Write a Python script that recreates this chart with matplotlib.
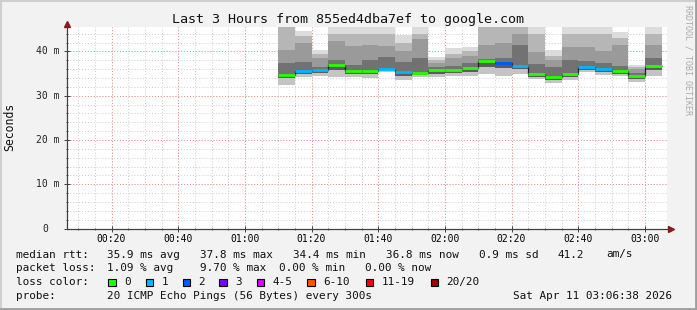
import matplotlib
matplotlib.use("Agg")
import matplotlib.pyplot as plt
import matplotlib.transforms as mtransforms
from matplotlib.patches import Rectangle
from matplotlib.lines import Line2D
import numpy as np

plt.rcParams['font.family'] = ['DejaVu Sans Mono', 'DejaVu Sans']

W, H = 697, 310

# time axis, minutes after 00:00
t_start = 6 + 38 / 60.0     # 00:06:38
t_end = 186 + 38 / 60.0     # 03:06:38
step_start = [70, 75, 80, 85, 90, 95, 100, 105, 110, 115, 120, 125,
              130, 135, 140, 145, 150, 155, 160, 165, 170, 175, 180]
step_len = 5

# smoke bands per 5 minute step (ms); 46 = above the top of the plot
rtt_hi      = [46.0, 44.5, 40.2, 46.0, 46.0, 46.0, 46.0, 43.7, 46.0, 38.8, 40.7, 41.0,
               46.0, 46.0, 46.0, 45.5, 40.3, 46.0, 46.0, 46.0, 44.4, 36.9, 46.0]
rtt_upper   = [46.0, 43.5, 39.5, 44.0, 44.0, 44.0, 44.0, 42.0, 44.0, 38.0, 39.5, 40.0,
               46.0, 46.0, 46.0, 44.0, 39.0, 44.0, 44.0, 44.0, 43.0, 36.5, 44.0]
rtt_mid_hi  = [40.3, 41.8, 38.5, 42.3, 41.2, 41.4, 41.3, 40.0, 42.9, 37.3, 38.5, 39.0,
               41.5, 42.0, 44.0, 39.9, 38.0, 41.0, 41.0, 40.0, 41.5, 36.0, 41.5]
rtt_dark_hi = [37.3, 37.7, 36.5, 38.0, 36.9, 38.0, 38.8, 37.5, 38.4, 36.5, 36.8, 37.3,
               38.3, 38.5, 41.5, 37.2, 36.5, 38.0, 37.8, 37.3, 36.6, 35.2, 38.5]
rtt_median  = [34.7, 35.6, 35.85, 36.9, 35.6, 35.6, 36.1, 35.3, 35.1, 35.85, 35.9, 36.2,
               37.8, 37.35, 36.75, 34.9, 34.1, 35.0, 36.45, 36.1, 35.55, 34.5, 36.8]
rtt_dark_lo = [33.9, 35.0, 35.2, 35.8, 35.0, 34.8, 35.8, 34.4, 34.6, 35.0, 35.2, 35.3,
               36.4, 36.2, 36.0, 34.3, 33.5, 34.3, 35.9, 35.4, 35.0, 33.8, 35.9]
rtt_lo      = [32.4, 34.1, 34.4, 34.3, 34.3, 33.9, 35.4, 33.6, 34.2, 34.2, 34.5, 34.4,
               35.0, 34.5, 35.0, 33.7, 32.9, 33.5, 35.3, 34.7, 34.4, 33.1, 34.4]
lost_pings  = [0, 1, 1, 0, 0, 0, 1, 1, 0, 0, 0, 0, 0, 2, 1, 0, 0, 0, 1, 1, 0, 0, 0]

loss_labels = ['0', '1', '2', '3', '4-5', '6-10', '11-19', '20/20']
loss_colors = ['#26ff00', '#00b8ff', '#0059ff', '#7e00ff', '#dd00ff', '#ff5500', '#ff0000', '#a00000']

x_ticks = [20, 40, 60, 80, 100, 120, 140, 160, 180]
x_labels = ['00:20', '00:40', '01:00', '01:20', '01:40', '02:00', '02:20', '02:40', '03:00']
y_ticks = [0, 10, 20, 30, 40]
y_labels = ['0', '10 m', '20 m', '30 m', '40 m']
y_top = 45.5

fig = plt.figure(figsize=(W / 100, H / 100), dpi=100, facecolor='#f2f2f2')

# frame shading
fig.add_artist(Line2D([0, 1], [1 - 1 / H, 1 - 1 / H], color='#cfcfcf', lw=1.5, transform=fig.transFigure))
fig.add_artist(Line2D([1 / W, 1 / W], [0, 1], color='#cfcfcf', lw=1.5, transform=fig.transFigure))
fig.add_artist(Line2D([0, 1], [1.5 / H, 1.5 / H], color='#9e9e9e', lw=2, transform=fig.transFigure))
fig.add_artist(Line2D([1 - 1.5 / W, 1 - 1.5 / W], [0, 1], color='#9e9e9e', lw=2, transform=fig.transFigure))

left, right, top, bottom = 67, 667, 27, 228.5
ax = fig.add_axes([left / W, 1 - bottom / H, (right - left) / W, (bottom - top) / H])
ax.set_facecolor('white')
ax.set_xlim(t_start, t_end)
ax.set_ylim(0, y_top)

# grid
for v in np.arange(0, y_top, 2):
    ax.axhline(v, color='#cccccc', lw=0.7, ls=(0, (1, 2)), zorder=0)
for v in np.arange(10, 181, 5):
    ax.axvline(v, color='#cccccc', lw=0.7, ls=(0, (1, 2)), zorder=0)
for v in y_ticks[1:]:
    ax.axhline(v, color='#f09090', lw=0.7, ls=(0, (1, 2)), zorder=0.5)
for v in x_ticks:
    ax.axvline(v, color='#f09090', lw=0.7, ls=(0, (1, 2)), zorder=0.5)

# smoke
edges = np.array(step_start + [step_start[-1] + step_len])
ax.stairs(rtt_dark_lo, edges, baseline=rtt_lo, fill=True, color='#c4c4c4', zorder=2)
ax.stairs(rtt_median, edges, baseline=rtt_dark_lo, fill=True, color='#5c5c5c', zorder=2)
ax.stairs(rtt_dark_hi, edges, baseline=rtt_median, fill=True, color='#727272', zorder=2)
ax.stairs(rtt_mid_hi, edges, baseline=rtt_dark_hi, fill=True, color='#9a9a9a', zorder=2)
ax.stairs(rtt_upper, edges, baseline=rtt_mid_hi, fill=True, color='#b6b6b6', zorder=2)
ax.stairs(rtt_hi, edges, baseline=rtt_upper, fill=True, color='#dcdcdc', zorder=2)

# median line coloured by loss
ax.stairs(rtt_median, edges, baseline=None, color='#202020', lw=0.9, zorder=3)
ax.hlines(rtt_median, edges[:-1], edges[1:], colors=[loss_colors[n] for n in lost_pings],
          lw=2.0, zorder=4)

# axes
for s in ['top', 'right']:
    ax.spines[s].set_visible(False)
for s in ['left', 'bottom']:
    ax.spines[s].set_color('#404040')
    ax.spines[s].set_linewidth(0.9)
    ax.spines[s].set_zorder(5)
ax.set_xticks(x_ticks)
ax.set_xticklabels(x_labels, fontsize=7)
ax.set_xticks(np.arange(10, 181, 5), minor=True)
ax.set_yticks(y_ticks)
ax.set_yticklabels([])
ax.set_yticks(np.arange(0, y_top, 2), minor=True)
ax.tick_params(axis='both', which='major', direction='inout', length=4, width=0.7, color='#404040', pad=2)
ax.tick_params(axis='both', which='minor', direction='inout', length=2, width=0.6, color='#404040')

ytrans = mtransforms.blended_transform_factory(ax.transAxes, ax.transData)
for v, lab in zip(y_ticks, y_labels):
    xr = 60 if v else 48
    ax.text((xr - left) / (right - left), v, lab, transform=ytrans, ha='right', va='center',
            fontsize=7, color='#222222', clip_on=False)

# axis arrows
ax.add_line(Line2D([0, 0], [1, 1.02], transform=ax.transAxes, color='#404040', lw=0.9, clip_on=False))
ax.plot([0], [1 + 3.4 / (bottom - top)], marker='^', ms=5, color='#8b1a1a', transform=ax.transAxes, clip_on=False)
ax.plot([1 + 4 / (right - left)], [0], marker='>', ms=5, color='#8b1a1a', transform=ax.transAxes, clip_on=False)

# titles
fig.text(0.5, 1 - 19.5 / H, 'Last 3 Hours from 855ed4dba7ef to google.com', ha='center', va='center',
         fontsize=9.6, color='#111111')
fig.text(10 / W, 1 - 127 / H, 'Seconds', rotation=90, ha='center', va='center', fontsize=8.3, color='#111111')
fig.text(688 / W, 1 - 5 / H, 'RRDTOOL / TOBI OETIKER', rotation=270, ha='center', va='top',
         fontsize=6, color='#aaaaaa')

# legend block
fs = 7.9


def put(x, y, s, **kw):
    fig.text(x / W, 1 - y / H, s, ha='left', va='center', fontsize=fs, color='#111111', **kw)


row1 = [(16, 'median rtt:'), (107.3, '35.9 ms avg'), (200, '37.8 ms max'), (292.7, '34.4 ms min'),
        (385.7, '36.8 ms now'), (479.3, '0.9 ms sd'), (557.3, '41.2'), (606.7, 'am/s')]
row2 = [(16, 'packet loss:'), (107.3, '1.09 % avg'), (200, '9.70 % max'), (279.3, '0.00 % min'),
        (365, '0.00 % now')]
for x, s in row1:
    put(x, 254.5, s)
for x, s in row2:
    put(x, 268.3, s)

put(16, 282, 'loss color:')
box_x = [108.3, 145.7, 182.7, 219.3, 256.7, 307.3, 365.7, 430.7]
for bx, lab, col in zip(box_x, loss_labels, loss_colors):
    fig.add_artist(Rectangle((bx / W, 1 - 286 / H), 7.5 / W, 7.5 / H, facecolor=col, edgecolor='black',
                             lw=0.8, transform=fig.transFigure))
    put(bx + 15.5, 282, lab)

put(16, 296, 'probe:')
put(107.3, 296, '20 ICMP Echo Pings (56 Bytes) every 300s')
put(513.3, 296, 'Sat Apr 11 03:06:38 2026')

fig.savefig('out.png', dpi=100, facecolor=fig.get_facecolor())
